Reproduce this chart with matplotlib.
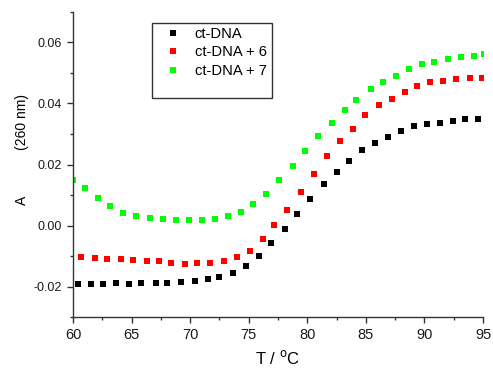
import matplotlib
matplotlib.use("Agg")
import matplotlib.pyplot as plt
from matplotlib.patches import Rectangle
from matplotlib.ticker import MultipleLocator

plt.rcParams['font.family'] = ['Liberation Sans', 'DejaVu Sans']

# ct-DNA
t_dna = [60.4, 61.5, 62.6, 63.7, 64.8, 65.8, 67.1, 68.05, 69.25, 70.4, 71.5, 72.5,
         73.7, 74.8, 75.9, 76.9, 78.1, 79.1, 80.2, 81.4, 82.5, 83.6, 84.7, 85.8,
         86.9, 88.0, 89.1, 90.2, 91.3, 92.4, 93.5, 94.6]
a_dna = [-0.0191, -0.0191, -0.0191, -0.0189, -0.0191, -0.0189, -0.0189, -0.0188,
         -0.0183, -0.0180, -0.0175, -0.0168, -0.0155, -0.0132, -0.0098, -0.0058,
         -0.0011, 0.0037, 0.0088, 0.0136, 0.0174, 0.0210, 0.0246, 0.0271,
         0.0289, 0.0310, 0.0325, 0.0333, 0.0337, 0.0344, 0.0349, 0.0349]

# ct-DNA + 6
t_6 = [60.7, 61.85, 62.9, 64.1, 65.1, 66.3, 67.3, 68.4, 69.55, 70.6, 71.7, 72.9,
       74.0, 75.1, 76.2, 77.2, 78.3, 79.5, 80.6, 81.7, 82.8, 83.9, 84.96, 86.1,
       87.2, 88.3, 89.4, 90.5, 91.6, 92.7, 93.9, 94.9]
a_6 = [-0.0103, -0.0107, -0.0109, -0.0109, -0.0113, -0.0117, -0.0117, -0.0122,
       -0.0124, -0.0122, -0.0122, -0.0117, -0.0103, -0.0083, -0.0045, 0.0001,
       0.0051, 0.0110, 0.0170, 0.0227, 0.0276, 0.0317, 0.0361, 0.0394,
       0.0415, 0.0439, 0.0458, 0.0470, 0.0473, 0.0481, 0.0484, 0.0484]

# ct-DNA + 7
t_7 = [60.0, 61.0, 62.1, 63.2, 64.3, 65.4, 66.6, 67.7, 68.8, 69.9, 71.0, 72.1,
       73.2, 74.3, 75.4, 76.5, 77.6, 78.8, 79.8, 80.9, 82.1, 83.2, 84.2, 85.4,
       86.5, 87.6, 88.7, 89.8, 90.8, 92.0, 93.1, 94.2, 95.1]
a_7 = [0.0150, 0.0122, 0.0092, 0.0064, 0.0043, 0.0030, 0.0024, 0.0022,
       0.0018, 0.0018, 0.0018, 0.0021, 0.0030, 0.0045, 0.0070, 0.0104,
       0.0149, 0.0194, 0.0244, 0.0294, 0.0337, 0.0378, 0.0412, 0.0448,
       0.0471, 0.0489, 0.0513, 0.0529, 0.0536, 0.0544, 0.0553, 0.0556, 0.0562]

labels = ['ct-DNA', 'ct-DNA + 6', 'ct-DNA + 7']
colors = ['#000000', '#ff0000', '#00ff00']

fig = plt.figure(figsize=(4.93, 3.71), dpi=100)
W, H = 493, 371
ax = fig.add_axes([73 / W, 1 - 317.3 / H, 410 / W, 305.5 / H])

series = [(t_dna, a_dna), (t_6, a_6), (t_7, a_7)]
handles = []
for (x, y), c, lab in zip(series, colors, labels):
    h, = ax.plot(x, y, linestyle='none', marker='s', markersize=4.8,
                 markeredgewidth=0, color=c, label=lab)
    handles.append(h)

ax.set_xlim(60, 95)
ax.set_ylim(-0.03, 0.07)
ax.xaxis.set_major_locator(MultipleLocator(5))
ax.xaxis.set_minor_locator(MultipleLocator(2.5))
ax.yaxis.set_major_locator(MultipleLocator(0.02))
ax.yaxis.set_minor_locator(MultipleLocator(0.01))
ax.set_yticks([-0.02, 0.0, 0.02, 0.04, 0.06])
ax.set_yticklabels(['-0.02', '0.00', '0.02', '0.04', '0.06'])

for s in ['top', 'right']:
    ax.spines[s].set_visible(False)
for s in ['left', 'bottom']:
    ax.spines[s].set_color('#333333')
    ax.spines[s].set_linewidth(1.0)

ax.tick_params(axis='both', which='major', direction='out', length=4.5,
               width=1.0, color='#333333')
ax.tick_params(axis='both', which='minor', direction='out', length=2.5,
               width=1.0, color='#333333')
ax.tick_params(axis='x', which='major', labelsize=10.5, pad=3.5, labelcolor='#1a1a1a')
ax.tick_params(axis='y', which='major', labelsize=9, pad=3.5, labelcolor='#1a1a1a')

ax.set_xlabel(r'T / $^{\mathrm{o}}$C', fontsize=12, labelpad=5)

# y label: "A" and "(260 nm)"
fig.text(22 / W, 1 - 200.5 / H, 'A', rotation=90, fontsize=10,
         ha='center', va='center')
fig.text(22 / W, 1 - 121.5 / H, '(260 nm)', rotation=90, fontsize=10,
         ha='center', va='center')

leg = ax.legend(handles=handles, loc='upper left', frameon=False,
                bbox_to_anchor=((166 - 73) / 410, 1 - (24 - 11.8) / 305.5),
                fontsize=10.6, handlelength=0.6, handletextpad=1.15,
                labelspacing=0.3, borderaxespad=0.0, markerscale=1.0,
                borderpad=0.2)
fig.patches.append(Rectangle((151.7 / W, 1 - 98.3 / H), (272.3 - 151.7) / W,
                             (98.3 - 22.7) / H, transform=fig.transFigure,
                             fill=False, edgecolor='#333333', linewidth=1.0))

fig.savefig('out.png', dpi=100)
